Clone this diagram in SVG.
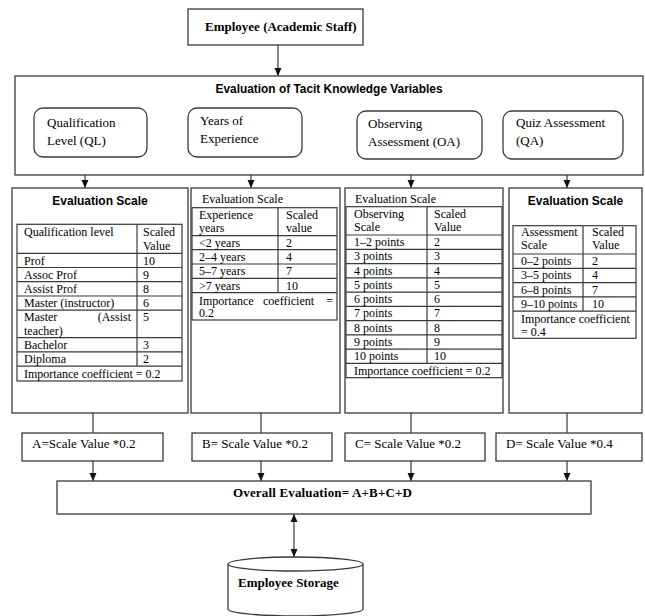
<svg xmlns="http://www.w3.org/2000/svg" width="645" height="616" viewBox="0 0 645 616">
<style>
.box{fill:#fff;stroke:#3a3a3a;stroke-width:1.3}
.tb{fill:none;stroke:#3a3a3a;stroke-width:1.2}
.ln{stroke:#3a3a3a;stroke-width:1.2;fill:none}
.t{font-family:"Liberation Serif","Times New Roman",serif;font-size:13px;fill:#000}
.s{font-size:12px}
.b{font-weight:bold}
.h{font-family:"Liberation Sans",Arial,sans-serif;font-weight:bold;font-size:12px;fill:#000}
</style>
<defs>
<marker id="ah" markerWidth="8" markerHeight="8" refX="8" refY="4" orient="auto-start-reverse" markerUnits="userSpaceOnUse">
<path d="M0,0.5 L8,4 L0,7.5 z" fill="#111"/>
</marker>
</defs>
<rect width="645" height="616" fill="#fff"/>

<g id="connectors">
<line class="ln" x1="278" y1="45" x2="278" y2="76" marker-end="url(#ah)"/>
<line class="ln" x1="85" y1="157" x2="85" y2="188" marker-end="url(#ah)"/>
<line class="ln" x1="251" y1="157" x2="251" y2="188" marker-end="url(#ah)"/>
<line class="ln" x1="411" y1="159" x2="411" y2="188" marker-end="url(#ah)"/>
<line class="ln" x1="567" y1="159" x2="567" y2="188" marker-end="url(#ah)"/>
<line class="ln" x1="93" y1="413" x2="93" y2="433"/>
<line class="ln" x1="261" y1="413" x2="261" y2="433"/>
<line class="ln" x1="411" y1="413" x2="411" y2="433"/>
<line class="ln" x1="567" y1="413" x2="567" y2="433"/>
<line class="ln" x1="93" y1="461" x2="93" y2="481" marker-end="url(#ah)"/>
<line class="ln" x1="261" y1="461" x2="261" y2="481" marker-end="url(#ah)"/>
<line class="ln" x1="411" y1="461" x2="411" y2="481" marker-end="url(#ah)"/>
<line class="ln" x1="567" y1="461" x2="567" y2="481" marker-end="url(#ah)"/>
<line class="ln" x1="294" y1="514" x2="294" y2="557" marker-start="url(#ah)" marker-end="url(#ah)"/>
</g>

<g id="employee">
<rect class="box" x="188" y="9" width="175" height="36"/>
<text class="t b" x="205" y="31" font-size="13.5">Employee (Academic Staff)</text>
</g>

<g id="tacit">
<rect class="box" x="15" y="76" width="628" height="99"/>
<text class="h" x="329" y="93" text-anchor="middle" textLength="227" lengthAdjust="spacingAndGlyphs">Evaluation of Tacit Knowledge Variables</text>
</g>

<g id="ql">
<rect class="box" x="34" y="108" width="113" height="49" rx="9"/>
<text class="t" x="47" y="127">Qualification</text>
<text class="t" x="47" y="145">Level (QL)</text>
</g>
<g id="years">
<rect class="box" x="188" y="108" width="114" height="49" rx="9"/>
<text class="t" x="200" y="125">Years of</text>
<text class="t" x="200" y="143">Experience</text>
</g>
<g id="oa">
<rect class="box" x="357" y="111" width="125" height="48" rx="9"/>
<text class="t" x="368" y="128">Observing</text>
<text class="t" x="368" y="146">Assessment (OA)</text>
</g>
<g id="qa">
<rect class="box" x="503" y="111" width="120" height="48" rx="9"/>
<text class="t" x="516" y="127">Quiz Assessment</text>
<text class="t" x="516" y="145">(QA)</text>
</g>

<g id="scale-ql">
<rect class="box" x="12" y="188" width="176" height="225"/>
<text class="h" x="100" y="205" text-anchor="middle">Evaluation Scale</text>
<rect class="tb" x="17" y="224.3" width="165" height="156.7"/>
<path class="ln" d="M137,224.3V366.1M17,253.3H182M17,267.5H182M17,281.7H182M17,296H182M17,310.2H182M17,337.7H182M17,351.9H182M17,366.1H182"/>
<g class="t s">
<text x="24" y="236">Qualification level</text>
<text x="143" y="236">Scaled</text>
<text x="143" y="249.5">Value</text>
<text x="24" y="264.5">Prof</text><text x="143" y="264.5">10</text>
<text x="24" y="278.7">Assoc Prof</text><text x="143" y="278.7">9</text>
<text x="24" y="292.9">Assist Prof</text><text x="143" y="292.9">8</text>
<text x="24" y="307.1">Master (instructor)</text><text x="143" y="307.1">6</text>
<text x="24" y="321.3">Master</text><text x="131" y="321.3" text-anchor="end">(Assist</text><text x="143" y="321.3">5</text>
<text x="24" y="334.5">teacher)</text>
<text x="24" y="348.8">Bachelor</text><text x="143" y="348.8">3</text>
<text x="24" y="363">Diploma</text><text x="143" y="363">2</text>
<text x="24" y="377.5">Importance coefficient = 0.2</text>
</g>
</g>

<g id="scale-years">
<rect class="box" x="191" y="188" width="149" height="225"/>
<g class="t s">
<text x="202" y="203">Evaluation Scale</text>
</g>
<rect class="tb" x="192" y="207.7" width="145" height="112.3"/>
<path class="ln" d="M278,207.7V292.7M192,235.7H337M192,249.7H337M192,264H337M192,278.3H337M192,292.7H337"/>
<g class="t s">
<text x="199" y="218.5">Experience</text><text x="286" y="218.5">Scaled</text>
<text x="199" y="231.5">years</text><text x="286" y="231.5">value</text>
<text x="199" y="246.5">&lt;2 years</text><text x="286" y="246.5">2</text>
<text x="199" y="260.8">2–4 years</text><text x="286" y="260.8">4</text>
<text x="199" y="275.1">5–7 years</text><text x="286" y="275.1">7</text>
<text x="199" y="289.5">&gt;7 years</text><text x="286" y="289.5">10</text>
<text x="199" y="304.5">Importance</text><text x="263" y="304.5">coefficient</text><text x="333" y="304.5" text-anchor="end">=</text>
<text x="199" y="317">0.2</text>
</g>
</g>

<g id="scale-oa">
<rect class="box" x="345" y="188" width="158" height="225"/>
<g class="t s">
<text x="355" y="203">Evaluation Scale</text>
</g>
<rect class="tb" x="346" y="206.7" width="156" height="171"/>
<path class="ln" d="M427,206.7V363.4M346,235H502M346,249.3H502M346,263.6H502M346,277.9H502M346,292.1H502M346,306.4H502M346,320.7H502M346,334.9H502M346,349.2H502M346,363.4H502"/>
<g class="t s">
<text x="354" y="217.5">Observing</text><text x="434" y="217.5">Scaled</text>
<text x="354" y="230.5">Scale</text><text x="434" y="230.5">Value</text>
<text x="354" y="246">1–2 points</text><text x="434" y="246">2</text>
<text x="354" y="260.3">3 points</text><text x="434" y="260.3">3</text>
<text x="354" y="274.6">4 points</text><text x="434" y="274.6">4</text>
<text x="354" y="288.9">5 points</text><text x="434" y="288.9">5</text>
<text x="354" y="303.1">6 points</text><text x="434" y="303.1">6</text>
<text x="354" y="317.4">7 points</text><text x="434" y="317.4">7</text>
<text x="354" y="331.7">8 points</text><text x="434" y="331.7">8</text>
<text x="354" y="345.9">9 points</text><text x="434" y="345.9">9</text>
<text x="354" y="360.2">10 points</text><text x="434" y="360.2">10</text>
<text x="354" y="374.5">Importance coefficient = 0.2</text>
</g>
</g>

<g id="scale-qa">
<rect class="box" x="509" y="188" width="133" height="225"/>
<text class="h" x="575.5" y="205" text-anchor="middle">Evaluation Scale</text>
<rect class="tb" x="513" y="225.7" width="123" height="112.6"/>
<path class="ln" d="M583,225.7V311.2M513,254H636M513,268.3H636M513,282.6H636M513,296.9H636M513,311.2H636"/>
<g class="t s">
<text x="521" y="236">Assessment</text><text x="592" y="236">Scaled</text>
<text x="521" y="249">Scale</text><text x="592" y="249">Value</text>
<text x="521" y="265">0–2 points</text><text x="592" y="265">2</text>
<text x="521" y="279.3">3–5 points</text><text x="592" y="279.3">4</text>
<text x="521" y="293.6">6–8 points</text><text x="592" y="293.6">7</text>
<text x="521" y="307.9">9–10 points</text><text x="592" y="307.9">10</text>
<text x="521" y="322.5">Importance coefficient</text>
<text x="521" y="335.5">= 0.4</text>
</g>
</g>

<g id="a">
<rect class="box" x="22" y="433" width="141" height="28"/>
<text class="t" x="32" y="448">A=Scale Value *0.2</text>
</g>
<g id="b">
<rect class="box" x="192" y="433" width="140" height="28"/>
<text class="t" x="202" y="448">B= Scale Value *0.2</text>
</g>
<g id="c">
<rect class="box" x="345" y="433" width="140" height="28"/>
<text class="t" x="355" y="448">C= Scale Value *0.2</text>
</g>
<g id="d">
<rect class="box" x="496" y="433" width="146" height="28"/>
<text class="t" x="506" y="448">D= Scale Value *0.4</text>
</g>

<g id="overall">
<rect class="box" x="57" y="481" width="534" height="33"/>
<text class="t b" x="233" y="497" textLength="179" lengthAdjust="spacing">Overall Evaluation= A+B+C+D</text>
</g>

<g id="storage">
<path class="box" d="M228,564V609A67.5,7 0 0 0 363,609V564"/>
<ellipse class="box" cx="295.5" cy="564" rx="67.5" ry="7"/>
<text class="t b" x="238" y="587">Employee Storage</text>
</g>
</svg>
